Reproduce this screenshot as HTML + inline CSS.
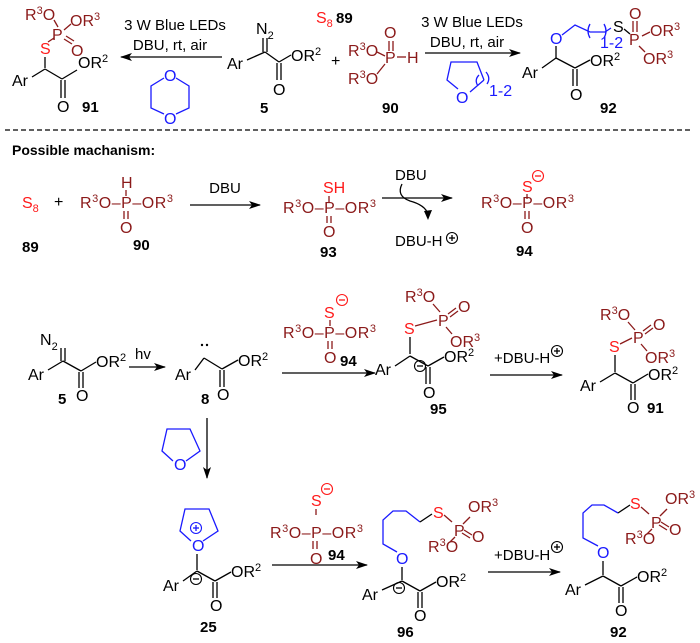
<!DOCTYPE html>
<html><head><meta charset="utf-8"><style>
html,body{margin:0;padding:0;background:#fff;}
svg{display:block;}
text{font-family:"Liberation Sans",Arial,sans-serif;font-size:16px;}
.dr{fill:#8b1a1a;} .r{fill:#ff1a1a;} .b{fill:#1a1aff;} .k{fill:#000;}
.lb{font-weight:bold;font-size:15px;}
.c{font-size:15px;}
line,polyline,path.s{stroke-width:1.3;fill:none;}
.lk{stroke:#000;} .ldr{stroke:#8b1a1a;} .lb2{stroke:#1a1aff;} .lr{stroke:#ff1a1a;}
</style></head><body>
<svg width="700" height="643" viewBox="0 0 700 643" xmlns="http://www.w3.org/2000/svg">
<defs>
<marker id="ah" markerWidth="12" markerHeight="8" refX="11" refY="4" orient="auto" markerUnits="userSpaceOnUse">
<polygon points="0,0 12,4 0,8 3,4" style="fill:#000;stroke:none"/></marker>
</defs>

<!-- ============ TOP ============ -->
<g>
<text x="25" y="20" class="dr">R<tspan dy="-6" font-size="11">3</tspan><tspan dy="6">O</tspan></text>
<text x="70" y="26" class="dr">OR<tspan dy="-6" font-size="11">3</tspan></text>
<text x="52" y="40" class="dr">P</text>
<line class="ldr" x1="54" y1="20" x2="58" y2="27"/>
<line class="ldr" x1="64" y1="30" x2="71" y2="24"/>
<line class="ldr" x1="64" y1="39" x2="72" y2="44"/><line class="ldr" x1="66" y1="36" x2="74" y2="41"/>
<text x="71" y="56" class="dr">O</text>
<text x="40" y="54" class="r">S</text>
<line class="ldr" x1="48" y1="42" x2="54" y2="38"/>
<line class="lk" x1="45" y1="57" x2="45" y2="68"/>
<text x="12" y="86" class="k">Ar</text>
<line class="lk" x1="32" y1="77" x2="45" y2="69"/>
<line class="lk" x1="45" y1="69" x2="62" y2="79"/>
<line class="lk" x1="61" y1="80" x2="61" y2="98"/><line class="lk" x1="65" y1="80" x2="65" y2="98"/>
<text x="57" y="112" class="k">O</text>
<line class="lk" x1="62" y1="79" x2="77" y2="70"/>
<text x="78" y="68" class="k">OR<tspan dy="-6" font-size="11">2</tspan></text>
<text x="82" y="112" class="lb">91</text>
</g>
<line class="lk" x1="222" y1="57" x2="121" y2="57" marker-end="url(#ah)"/>
<text x="175" y="30" class="c" text-anchor="middle">3 W Blue LEDs</text>
<text x="170" y="50" class="c" text-anchor="middle">DBU, rt, air</text>
<polyline class="lb2" points="164,78 151,86 151,108 164,114"/>
<polyline class="lb2" points="176,78 189,86 189,108 176,114"/>
<text x="164" y="81" class="b">O</text>
<text x="164" y="124" class="b">O</text>
<text x="256" y="34" class="k">N<tspan dy="5" font-size="11">2</tspan></text>
<line class="lk" x1="263" y1="38" x2="263" y2="52"/><line class="lk" x1="267" y1="38" x2="267" y2="52"/>
<text x="227" y="69" class="k">Ar</text>
<line class="lk" x1="247" y1="60" x2="265" y2="52"/>
<line class="lk" x1="265" y1="52" x2="279" y2="62"/>
<line class="lk" x1="277" y1="63" x2="277" y2="80"/><line class="lk" x1="281" y1="63" x2="281" y2="80"/>
<text x="273" y="95" class="k">O</text>
<line class="lk" x1="279" y1="62" x2="291" y2="55"/>
<text x="291" y="61" class="k">OR<tspan dy="-6" font-size="11">2</tspan></text>
<text x="260" y="113" class="lb">5</text>
<text x="331" y="66" class="k">+</text>
<text x="316" y="23" class="r">S<tspan dy="4" font-size="11">8</tspan></text>
<text x="336" y="23" class="lb">89</text>
<text x="384" y="38" class="dr">O</text>
<line class="ldr" x1="389" y1="41" x2="389" y2="51"/><line class="ldr" x1="393" y1="41" x2="393" y2="51"/>
<text x="385" y="63" class="dr">P</text>
<line class="ldr" x1="397" y1="57" x2="406" y2="57"/>
<text x="407" y="63" class="dr">H</text>
<text x="348" y="56" class="dr">R<tspan dy="-6" font-size="11">3</tspan><tspan dy="6">O</tspan></text>
<text x="348" y="84" class="dr">R<tspan dy="-6" font-size="11">3</tspan><tspan dy="6">O</tspan></text>
<line class="ldr" x1="377" y1="52" x2="385" y2="56"/>
<line class="ldr" x1="377" y1="74" x2="385" y2="64"/>
<text x="382" y="113" class="lb">90</text>
<line class="lk" x1="425" y1="53" x2="520" y2="53" marker-end="url(#ah)"/>
<text x="472" y="27" class="c" text-anchor="middle">3 W Blue LEDs</text>
<text x="467" y="47" class="c" text-anchor="middle">DBU, rt, air</text>
<polyline class="lb2" points="458,89 447,80 451,62 477,62 484,80"/>
<text x="456" y="103" class="b">O</text>
<path class="s lb2" d="M470,92 L484,80 M478,86 Q474,80 479,75 M487,84 Q491,78 486,72"/>
<text x="489" y="96" class="b" font-size="11">1-2</text>
<text x="550" y="44" class="b">O</text>
<polyline class="lb2" points="562,35 575,25 590,32 605,32 611,28"/>
<path class="s lb2" d="M590,24 Q586,31 590,38 M604,24 Q608,31 604,38"/>
<text x="600" y="48" class="b" font-size="11">1-2</text>
<text x="613" y="32" class="k">S</text>
<line class="lk" x1="624" y1="29" x2="630" y2="34"/>
<text x="629" y="45" class="dr">P</text>
<text x="629" y="19" class="dr">O</text>
<line class="ldr" x1="633" y1="21" x2="633" y2="32"/><line class="ldr" x1="637" y1="21" x2="637" y2="32"/>
<line class="ldr" x1="642" y1="36" x2="650" y2="32"/>
<text x="650" y="36" class="dr">OR<tspan dy="-6" font-size="11">3</tspan></text>
<line class="ldr" x1="639" y1="46" x2="645" y2="52"/>
<text x="643" y="64" class="dr">OR<tspan dy="-6" font-size="11">3</tspan></text>
<line class="lk" x1="556" y1="46" x2="556" y2="58"/>
<text x="522" y="78" class="k">Ar</text>
<line class="lk" x1="542" y1="68" x2="556" y2="58"/>
<line class="lk" x1="556" y1="58" x2="575" y2="68"/>
<line class="lk" x1="573" y1="69" x2="573" y2="86"/><line class="lk" x1="577" y1="69" x2="577" y2="86"/>
<text x="570" y="100" class="k">O</text>
<line class="lk" x1="575" y1="68" x2="590" y2="60"/>
<text x="590" y="66" class="k">OR<tspan dy="-6" font-size="11">2</tspan></text>
<text x="600" y="113" class="lb">92</text>

<line x1="5" y1="130" x2="692" y2="130" stroke="#000" stroke-width="1.2" stroke-dasharray="5,3"/>

<!-- row 2 -->
<text x="12" y="155" style="font-weight:bold;font-size:14px">Possible machanism:</text>
<text x="22" y="208" class="r">S<tspan dy="4" font-size="11">8</tspan></text>
<text x="54" y="207" class="k" font-size="14">+</text>
<text x="80" y="208" class="dr" textLength="93">R<tspan dy="-6" font-size="11">3</tspan><tspan dy="6">O–P–OR</tspan><tspan dy="-6" font-size="11">3</tspan></text>
<text x="121" y="188" class="dr">H</text>
<line class="ldr" x1="126" y1="190" x2="126" y2="196"/>
<line class="ldr" x1="124" y1="211" x2="124" y2="219"/><line class="ldr" x1="128" y1="211" x2="128" y2="219"/>
<text x="120" y="233" class="dr">O</text>
<text x="22" y="252" class="lb">89</text>
<text x="133" y="250" class="lb">90</text>
<line class="lk" x1="190" y1="205" x2="260" y2="205" marker-end="url(#ah)"/>
<text x="225" y="193" class="c" text-anchor="middle">DBU</text>
<text x="323" y="193" class="r">SH</text>
<line class="ldr" x1="329" y1="196" x2="329" y2="202"/>
<text x="283" y="213" class="dr" textLength="93">R<tspan dy="-6" font-size="11">3</tspan><tspan dy="6">O–P–OR</tspan><tspan dy="-6" font-size="11">3</tspan></text>
<line class="ldr" x1="327" y1="216" x2="327" y2="223"/><line class="ldr" x1="331" y1="216" x2="331" y2="223"/>
<text x="323" y="237" class="dr">O</text>
<text x="320" y="257" class="lb">93</text>
<line class="lk" x1="382" y1="198" x2="452" y2="198" marker-end="url(#ah)"/>
<text x="395" y="180" class="c">DBU</text>
<path class="s lk" d="M402,184 Q396,196 410,201 Q425,205 428,214"/>
<polygon points="424,211 428,220 432,210" style="fill:#000"/>
<text x="395" y="246" class="c">DBU-H</text>
<circle cx="452" cy="238" r="5.5" fill="none" stroke="#000" stroke-width="1.1"/>
<line class="lk" x1="449" y1="238" x2="455" y2="238"/><line class="lk" x1="452" y1="235" x2="452" y2="241"/>
<text x="522" y="192" class="r">S</text>
<circle cx="538" cy="176" r="5.5" fill="none" stroke="#ff1a1a" stroke-width="1.1"/>
<line class="lr" x1="535" y1="176" x2="541" y2="176"/>
<line class="ldr" x1="527" y1="194" x2="527" y2="199"/>
<text x="481" y="208" class="dr" textLength="93">R<tspan dy="-6" font-size="11">3</tspan><tspan dy="6">O–P–OR</tspan><tspan dy="-6" font-size="11">3</tspan></text>
<line class="ldr" x1="525" y1="211" x2="525" y2="219"/><line class="ldr" x1="529" y1="211" x2="529" y2="219"/>
<text x="521" y="233" class="dr">O</text>
<text x="516" y="256" class="lb">94</text>

<!-- row 3 -->
<text x="40" y="345" class="k">N<tspan dy="5" font-size="11">2</tspan></text>
<line class="lk" x1="61" y1="348" x2="61" y2="361"/><line class="lk" x1="65" y1="348" x2="65" y2="361"/>
<text x="28" y="380" class="k">Ar</text>
<line class="lk" x1="48" y1="370" x2="63" y2="361"/>
<line class="lk" x1="63" y1="361" x2="81" y2="371"/>
<line class="lk" x1="79" y1="372" x2="79" y2="388"/><line class="lk" x1="83" y1="372" x2="83" y2="388"/>
<text x="76" y="401" class="k">O</text>
<line class="lk" x1="81" y1="371" x2="96" y2="362"/>
<text x="96" y="367" class="k">OR<tspan dy="-6" font-size="11">2</tspan></text>
<text x="58" y="404" class="lb">5</text>
<line class="lk" x1="129" y1="367" x2="165" y2="367" marker-end="url(#ah)"/>
<text x="135" y="359" class="c">hv</text>
<text x="175" y="380" class="k">Ar</text>
<circle cx="202" cy="345" r="1.2" fill="#000"/><circle cx="207" cy="345" r="1.2" fill="#000"/>
<line class="lk" x1="195" y1="370" x2="204" y2="358"/>
<line class="lk" x1="204" y1="358" x2="222" y2="369"/>
<line class="lk" x1="220" y1="370" x2="220" y2="387"/><line class="lk" x1="224" y1="370" x2="224" y2="387"/>
<text x="217" y="400" class="k">O</text>
<line class="lk" x1="222" y1="369" x2="238" y2="360"/>
<text x="238" y="366" class="k">OR<tspan dy="-6" font-size="11">2</tspan></text>
<text x="201" y="404" class="lb">8</text>
<line class="lk" x1="282" y1="373" x2="375" y2="373" marker-end="url(#ah)"/>
<text x="324" y="318" class="r">S</text>
<circle cx="342" cy="300" r="5.5" fill="none" stroke="#ff1a1a" stroke-width="1.1"/>
<line class="lr" x1="339" y1="300" x2="345" y2="300"/>
<line class="ldr" x1="330" y1="320" x2="330" y2="326"/>
<text x="283" y="338" class="dr" textLength="93">R<tspan dy="-6" font-size="11">3</tspan><tspan dy="6">O–P–OR</tspan><tspan dy="-6" font-size="11">3</tspan></text>
<line class="ldr" x1="328" y1="341" x2="328" y2="349"/><line class="ldr" x1="332" y1="341" x2="332" y2="349"/>
<text x="324" y="363" class="dr">O</text>
<text x="340" y="366" class="lb">94</text>
<!-- 95 -->
<text x="405" y="302" class="dr">R<tspan dy="-6" font-size="11">3</tspan><tspan dy="6">O</tspan></text>
<line class="ldr" x1="433" y1="304" x2="440" y2="312"/>
<text x="438" y="326" class="dr">P</text>
<line class="ldr" x1="448" y1="314" x2="456" y2="308"/><line class="ldr" x1="450" y1="317" x2="458" y2="311"/>
<text x="458" y="312" class="dr">O</text>
<text x="404" y="334" class="r">S</text>
<line class="ldr" x1="415" y1="326" x2="437" y2="320"/>
<line class="ldr" x1="446" y1="327" x2="452" y2="334"/>
<text x="450" y="347" class="dr">OR<tspan dy="-6" font-size="11">3</tspan></text>
<line class="lk" x1="410" y1="337" x2="410" y2="354"/>
<text x="375" y="375" class="k">Ar</text>
<line class="lk" x1="395" y1="366" x2="410" y2="356"/>
<line class="lk" x1="410" y1="356" x2="428" y2="366"/>
<circle cx="420" cy="366" r="5.5" fill="none" stroke="#000" stroke-width="1.1"/>
<line class="lk" x1="417" y1="366" x2="423" y2="366"/>
<line class="lk" x1="426" y1="367" x2="426" y2="384"/><line class="lk" x1="430" y1="367" x2="430" y2="384"/>
<text x="423" y="398" class="k">O</text>
<line class="lk" x1="428" y1="366" x2="444" y2="357"/>
<text x="444" y="362" class="k">OR<tspan dy="-6" font-size="11">2</tspan></text>
<text x="430" y="414" class="lb">95</text>
<line class="lk" x1="490" y1="375" x2="562" y2="375" marker-end="url(#ah)"/>
<text x="494" y="363" class="c">+DBU-H</text>
<circle cx="557" cy="351" r="5.5" fill="none" stroke="#000" stroke-width="1.1"/>
<line class="lk" x1="554" y1="351" x2="560" y2="351"/><line class="lk" x1="557" y1="348" x2="557" y2="354"/>
<!-- 91 -->
<text x="600" y="320" class="dr">R<tspan dy="-6" font-size="11">3</tspan><tspan dy="6">O</tspan></text>
<line class="ldr" x1="628" y1="322" x2="635" y2="330"/>
<text x="633" y="343" class="dr">P</text>
<line class="ldr" x1="643" y1="331" x2="651" y2="325"/><line class="ldr" x1="645" y1="334" x2="653" y2="328"/>
<text x="653" y="330" class="dr">O</text>
<text x="609" y="352" class="r">S</text>
<line class="ldr" x1="620" y1="344" x2="632" y2="338"/>
<line class="ldr" x1="641" y1="344" x2="647" y2="351"/>
<text x="645" y="363" class="dr">OR<tspan dy="-6" font-size="11">3</tspan></text>
<line class="lk" x1="615" y1="355" x2="615" y2="372"/>
<text x="580" y="391" class="k">Ar</text>
<line class="lk" x1="600" y1="382" x2="615" y2="373"/>
<line class="lk" x1="615" y1="373" x2="633" y2="383"/>
<line class="lk" x1="631" y1="384" x2="631" y2="400"/><line class="lk" x1="635" y1="384" x2="635" y2="400"/>
<text x="627" y="413" class="k">O</text>
<line class="lk" x1="633" y1="383" x2="648" y2="374"/>
<text x="648" y="380" class="k">OR<tspan dy="-6" font-size="11">2</tspan></text>
<text x="647" y="413" class="lb">91</text>

<line class="lk" x1="207" y1="418" x2="207" y2="478" marker-end="url(#ah)"/>
<polyline class="lb2" points="173,461 162,451 167,429 190,429 200,451 186,461"/>
<text x="174" y="470" class="b">O</text>

<!-- row 4 -->
<polyline class="lb2" points="191,541 180,531 185,509 209,509 218,531 203,541"/>
<circle cx="196" cy="528" r="5.5" fill="none" stroke="#1a1aff" stroke-width="1.1"/>
<line class="lb2" x1="193" y1="528" x2="199" y2="528"/><line class="lb2" x1="196" y1="525" x2="196" y2="531"/>
<text x="192" y="551" class="b">O</text>
<line class="lk" x1="197" y1="554" x2="197" y2="570"/>
<text x="163" y="591" class="k">Ar</text>
<line class="lk" x1="183" y1="581" x2="197" y2="571"/>
<line class="lk" x1="197" y1="571" x2="215" y2="581"/>
<circle cx="196" cy="579" r="5.5" fill="none" stroke="#000" stroke-width="1.1"/>
<line class="lk" x1="193" y1="579" x2="199" y2="579"/>
<line class="lk" x1="213" y1="582" x2="213" y2="598"/><line class="lk" x1="217" y1="582" x2="217" y2="598"/>
<text x="210" y="611" class="k">O</text>
<line class="lk" x1="215" y1="581" x2="231" y2="572"/>
<text x="231" y="577" class="k">OR<tspan dy="-6" font-size="11">2</tspan></text>
<text x="200" y="632" class="lb">25</text>
<line class="lk" x1="272" y1="565" x2="367" y2="565" marker-end="url(#ah)"/>
<text x="311" y="506" class="r">S</text>
<circle cx="327" cy="489" r="5.5" fill="none" stroke="#ff1a1a" stroke-width="1.1"/>
<line class="lr" x1="324" y1="489" x2="330" y2="489"/>
<line class="ldr" x1="316" y1="509" x2="316" y2="515"/>
<text x="270" y="538" class="dr" textLength="93">R<tspan dy="-6" font-size="11">3</tspan><tspan dy="6">O–P–OR</tspan><tspan dy="-6" font-size="11">3</tspan></text>
<line class="ldr" x1="313" y1="541" x2="313" y2="549"/><line class="ldr" x1="317" y1="541" x2="317" y2="549"/>
<text x="310" y="564" class="dr">O</text>
<text x="328" y="560" class="lb">94</text>
<!-- 96 -->
<polyline class="lb2" points="397,552 383,544 383,520 393,511 406,511 420,522"/>
<line class="lk" x1="420" y1="522" x2="432" y2="514"/>
<text x="433" y="518" class="r">S</text>
<line class="ldr" x1="444" y1="515" x2="452" y2="522"/>
<text x="454" y="536" class="dr">P</text>
<line class="ldr" x1="463" y1="524" x2="470" y2="517"/>
<text x="468" y="512" class="dr">OR<tspan dy="-6" font-size="11">3</tspan></text>
<line class="ldr" x1="464" y1="530" x2="472" y2="535"/><line class="ldr" x1="462" y1="533" x2="470" y2="538"/>
<text x="472" y="542" class="dr">O</text>
<text x="428" y="552" class="dr">R<tspan dy="-6" font-size="11">3</tspan><tspan dy="6">O</tspan></text>
<line class="ldr" x1="450" y1="542" x2="455" y2="537"/>
<text x="396" y="564" class="b">O</text>
<line class="lk" x1="402" y1="567" x2="402" y2="580"/>
<text x="362" y="600" class="k">Ar</text>
<line class="lk" x1="382" y1="590" x2="402" y2="581"/>
<line class="lk" x1="402" y1="581" x2="420" y2="591"/>
<circle cx="399" cy="588" r="5.5" fill="none" stroke="#000" stroke-width="1.1"/>
<line class="lk" x1="396" y1="588" x2="402" y2="588"/>
<line class="lk" x1="418" y1="592" x2="418" y2="608"/><line class="lk" x1="422" y1="592" x2="422" y2="608"/>
<text x="414" y="621" class="k">O</text>
<line class="lk" x1="420" y1="591" x2="436" y2="582"/>
<text x="436" y="587" class="k">OR<tspan dy="-6" font-size="11">2</tspan></text>
<text x="397" y="637" class="lb">96</text>
<line class="lk" x1="488" y1="572" x2="560" y2="572" marker-end="url(#ah)"/>
<text x="494" y="560" class="c">+DBU-H</text>
<circle cx="557" cy="547" r="5.5" fill="none" stroke="#000" stroke-width="1.1"/>
<line class="lk" x1="554" y1="547" x2="560" y2="547"/><line class="lk" x1="557" y1="544" x2="557" y2="550"/>
<!-- 92 -->
<polyline class="lb2" points="598,546 583,538 583,513 592,505 604,505 618,513"/>
<line class="lk" x1="618" y1="513" x2="630" y2="505"/>
<text x="630" y="509" class="r">S</text>
<line class="ldr" x1="641" y1="507" x2="649" y2="514"/>
<text x="651" y="528" class="dr">P</text>
<line class="ldr" x1="660" y1="516" x2="667" y2="509"/>
<text x="665" y="504" class="dr">OR<tspan dy="-6" font-size="11">3</tspan></text>
<line class="ldr" x1="661" y1="522" x2="669" y2="527"/><line class="ldr" x1="659" y1="525" x2="667" y2="530"/>
<text x="669" y="535" class="dr">O</text>
<text x="625" y="544" class="dr">R<tspan dy="-6" font-size="11">3</tspan><tspan dy="6">O</tspan></text>
<line class="ldr" x1="647" y1="534" x2="652" y2="529"/>
<text x="597" y="558" class="b">O</text>
<line class="lk" x1="603" y1="561" x2="603" y2="575"/>
<text x="565" y="595" class="k">Ar</text>
<line class="lk" x1="585" y1="585" x2="603" y2="576"/>
<line class="lk" x1="603" y1="576" x2="621" y2="586"/>
<line class="lk" x1="619" y1="587" x2="619" y2="603"/><line class="lk" x1="623" y1="587" x2="623" y2="603"/>
<text x="615" y="616" class="k">O</text>
<line class="lk" x1="621" y1="586" x2="637" y2="577"/>
<text x="637" y="582" class="k">OR<tspan dy="-6" font-size="11">2</tspan></text>
<text x="610" y="637" class="lb">92</text>
</svg>
</body></html>
